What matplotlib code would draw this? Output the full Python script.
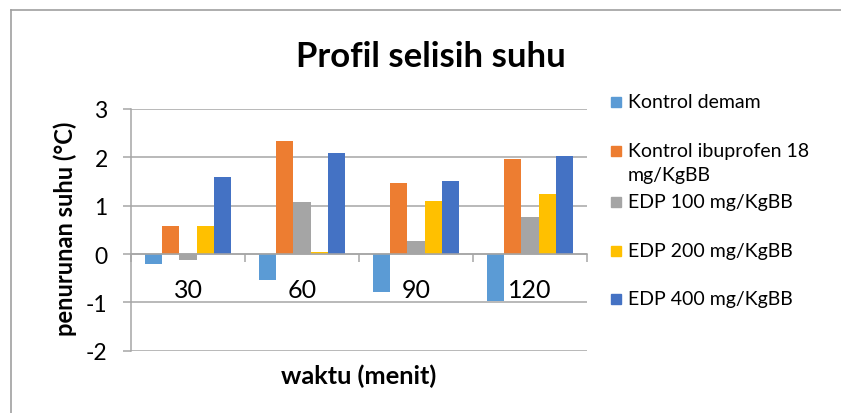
import matplotlib
matplotlib.use("Agg")
import matplotlib.pyplot as plt
from matplotlib.patches import Rectangle
from matplotlib.lines import Line2D
import numpy as np

plt.rcParams['font.family'] = ['Lato', 'DejaVu Sans']

categories = ["30", "60", "90", "120"]
series_names = ["Kontrol demam", "Kontrol ibuprofen 18 mg/KgBB", "EDP 100 mg/KgBB",
                "EDP 200 mg/KgBB", "EDP 400 mg/KgBB"]
kontrol_demam = [-0.21, -0.54, -0.78, -0.98]
kontrol_ibuprofen = [0.57, 2.34, 1.46, 1.96]
edp_100 = [-0.12, 1.08, 0.26, 0.76]
edp_200 = [0.57, 0.04, 1.10, 1.24]
edp_400 = [1.59, 2.10, 1.52, 2.02]
series_values = [kontrol_demam, kontrol_ibuprofen, edp_100, edp_200, edp_400]
colors = ["#5B9BD5", "#ED7D31", "#A5A5A5", "#FFC000", "#4472C4"]
yticks = [-2, -1, 0, 1, 2, 3]

W, H = 841, 414
fig = plt.figure(figsize=(W / 100, H / 100), dpi=100)
grid_c = "#A6A6A6"

# chart border (top and left visible)
fig.add_artist(Line2D([11 / W, 1.0], [1 - 11 / H, 1 - 11 / H], color="#A0A0A0", lw=1.2,
                      transform=fig.transFigure))
fig.add_artist(Line2D([11 / W, 11 / W], [0, 1 - 11 / H], color="#A0A0A0", lw=1.2,
                      transform=fig.transFigure))

ax = fig.add_axes([131 / W, 1 - 351.7 / H, (587 - 131) / W, (351.7 - 110) / H])

x = np.arange(len(categories))
bw = 0.152
n = len(series_values)
for j, (vals, c) in enumerate(zip(series_values, colors)):
    ax.bar(x + (j - (n - 1) / 2) * bw, vals, width=bw, color=c, zorder=3, label=series_names[j])

ax.set_xlim(-0.5, len(categories) - 0.5)
ax.set_ylim(min(yticks), max(yticks))
ax.set_yticks(yticks)
ax.set_yticklabels([str(t) for t in yticks], fontsize=16.5)
ax.yaxis.grid(True, color=grid_c, lw=1.1, zorder=0)

for s in ["top", "right"]:
    ax.spines[s].set_visible(False)
ax.spines["left"].set_color(grid_c)
ax.spines["left"].set_linewidth(1.1)
ax.spines["bottom"].set_position(("data", 0))
ax.spines["bottom"].set_color(grid_c)
ax.spines["bottom"].set_linewidth(1.1)
ax.spines["bottom"].set_zorder(4)

ax.set_xticks(x)
ax.set_xticklabels(categories, fontsize=18)
ax.tick_params(axis="x", which="major", length=0, pad=17)
ax.set_xticks(np.arange(-0.5, len(categories), 1.0), minor=True)
ax.tick_params(axis="x", which="minor", length=5.5, color=grid_c, width=1.1, direction="out")
ax.tick_params(axis="y", length=5.8, color=grid_c, width=1.1, pad=11)

ax.set_xlabel("waktu (menit)", fontsize=18.3, fontweight="bold", va="center")
ax.xaxis.set_label_coords(0.5, (351.7 - 376) / (351.7 - 110))
ax.set_ylabel("penurunan suhu (°C)", fontsize=17, fontweight="bold", va="center")
ax.yaxis.set_label_coords((65 - 131) / (587 - 131), (351.7 - 228.5) / (351.7 - 110))

fig.text(431 / W, 1 - 57 / H, "Profil selisih suhu", fontsize=25, fontweight="bold",
         ha="center", va="center")

# legend
leg_y = [103, 152, 203, 252, 300]
wrap = {"Kontrol ibuprofen 18 mg/KgBB": ["Kontrol ibuprofen 18", "mg/KgBB"]}
for name, c, yy in zip(series_names, colors, leg_y):
    fig.add_artist(Rectangle((611 / W, 1 - (yy + 5) / H), 10 / W, 10 / H, color=c,
                             transform=fig.transFigure))
    lines = wrap.get(name, [name])
    for k, ln in enumerate(lines):
        fig.text(628 / W, 1 - (yy + 24 * k) / H, ln, fontsize=14, ha="left", va="center")

fig.savefig("out.png", dpi=100)
